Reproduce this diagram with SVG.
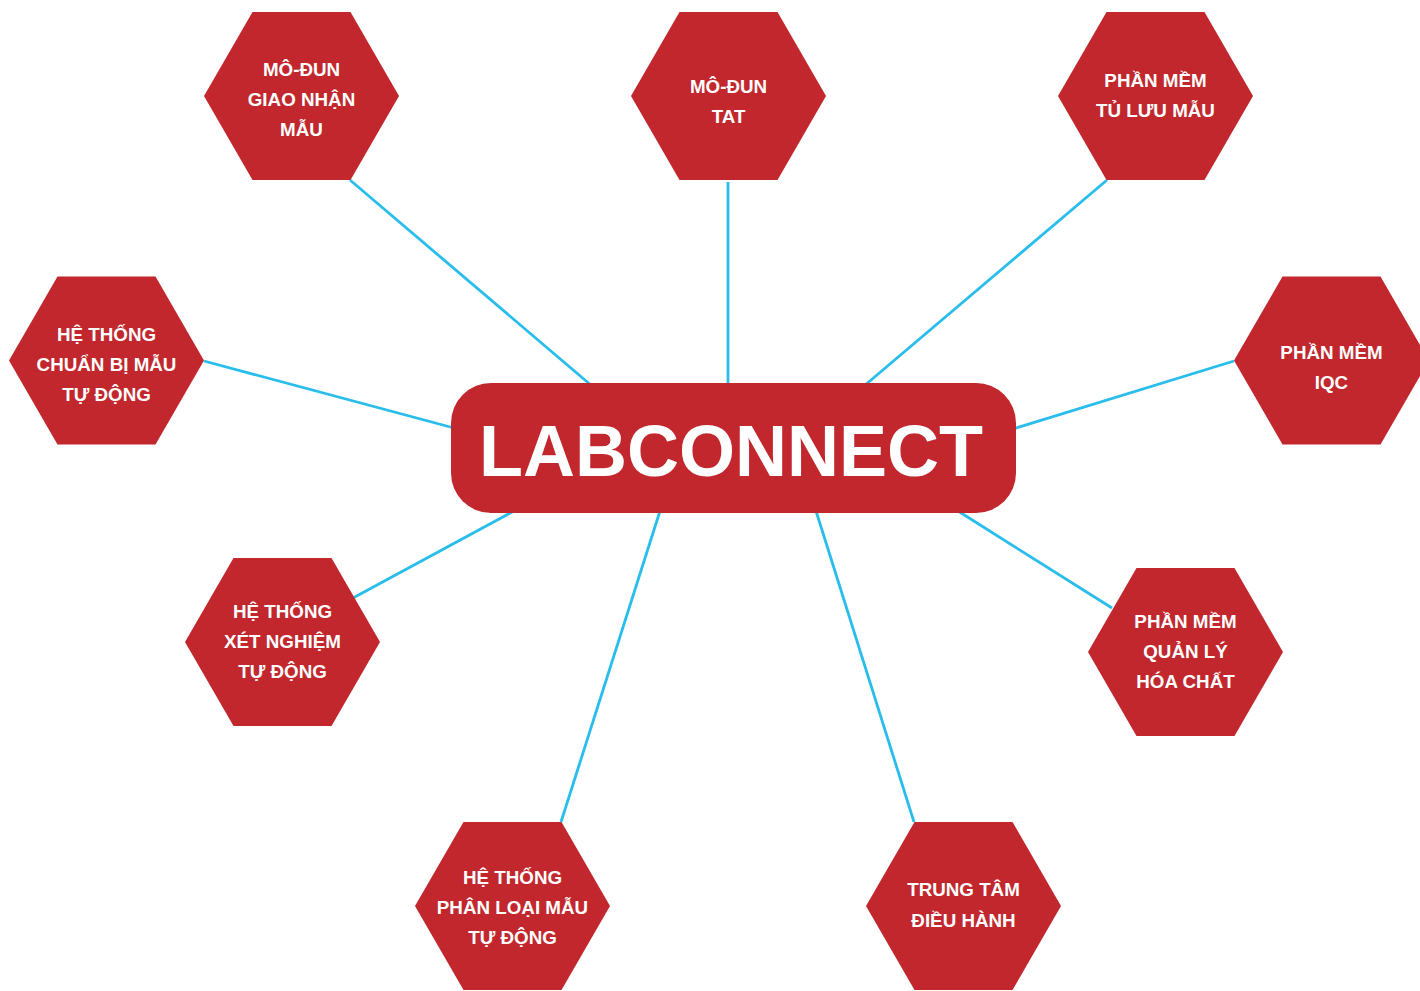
<svg xmlns="http://www.w3.org/2000/svg" width="1420" height="991" viewBox="0 0 1420 991">
<defs>
<style>
.hex{fill:#c1272d}
.lbl{font-family:"Liberation Sans",Arial,sans-serif;font-weight:bold;font-size:18.8px;fill:#ffffff;text-anchor:middle}
.title{font-family:"Liberation Sans",Arial,sans-serif;font-weight:bold;font-size:72px;fill:#ffffff;text-anchor:middle}
.conn line{stroke:#29bdec;stroke-width:2.8;fill:none}
</style>
<polygon id="hexshape" points="-97.5,0 -49,-84 49,-84 97.5,0 49,84 -49,84"/>
</defs>
<rect width="1420" height="991" fill="#ffffff"/>
<g id="connectors" class="conn">
<line x1="350" y1="180" x2="592" y2="386"/>
<line x1="728" y1="182" x2="728" y2="386"/>
<line x1="1107" y1="180" x2="864" y2="386"/>
<line x1="204" y1="361" x2="454" y2="428"/>
<line x1="1234" y1="361" x2="1013" y2="429"/>
<line x1="353" y1="598" x2="514" y2="511"/>
<line x1="1112" y1="608" x2="958" y2="511"/>
<line x1="561" y1="822" x2="660" y2="511"/>
<line x1="914" y1="822" x2="816" y2="511"/>
</g>
<g id="node-giao-nhan">
<use href="#hexshape" class="hex" x="301.5" y="96"/>
<text class="lbl" x="301.5" y="76">MÔ-ĐUN</text>
<text class="lbl" x="301.5" y="106">GIAO NHẬN</text>
<text class="lbl" x="301.5" y="136">MẪU</text>
</g>
<g id="node-tat">
<use href="#hexshape" class="hex" x="728.5" y="96"/>
<text class="lbl" x="728.5" y="92.5">MÔ-ĐUN</text>
<text class="lbl" x="728.5" y="122.5">TAT</text>
</g>
<g id="node-tu-luu">
<use href="#hexshape" class="hex" x="1155.5" y="96"/>
<text class="lbl" x="1155.5" y="86.5">PHẦN MỀM</text>
<text class="lbl" x="1155.5" y="116.5">TỦ LƯU MẪU</text>
</g>
<g id="node-chuan-bi">
<use href="#hexshape" class="hex" x="106.5" y="360.5"/>
<text class="lbl" x="106.5" y="341">HỆ THỐNG</text>
<text class="lbl" x="106.5" y="370.5">CHUẨN BỊ MẪU</text>
<text class="lbl" x="106.5" y="400.5">TỰ ĐỘNG</text>
</g>
<g id="node-iqc">
<use href="#hexshape" class="hex" x="1331.5" y="360.5"/>
<text class="lbl" x="1331.5" y="358.5">PHẦN MỀM</text>
<text class="lbl" x="1331.5" y="388.5">IQC</text>
</g>
<g id="node-xet-nghiem">
<use href="#hexshape" class="hex" x="282.5" y="642"/>
<text class="lbl" x="282.5" y="617.5">HỆ THỐNG</text>
<text class="lbl" x="282.5" y="647.5">XÉT NGHIỆM</text>
<text class="lbl" x="282.5" y="677.5">TỰ ĐỘNG</text>
</g>
<g id="node-hoa-chat">
<use href="#hexshape" class="hex" x="1185.5" y="652"/>
<text class="lbl" x="1185.5" y="627.5">PHẦN MỀM</text>
<text class="lbl" x="1185.5" y="657.5">QUẢN LÝ</text>
<text class="lbl" x="1185.5" y="687.5">HÓA CHẤT</text>
</g>
<g id="node-phan-loai">
<use href="#hexshape" class="hex" x="512.5" y="906"/>
<text class="lbl" x="512.5" y="883.5">HỆ THỐNG</text>
<text class="lbl" x="512.5" y="914">PHÂN LOẠI MẪU</text>
<text class="lbl" x="512.5" y="944">TỰ ĐỘNG</text>
</g>
<g id="node-trung-tam">
<use href="#hexshape" class="hex" x="963.5" y="906"/>
<text class="lbl" x="963.5" y="896">TRUNG TÂM</text>
<text class="lbl" x="963.5" y="926.5">ĐIỀU HÀNH</text>
</g>
<g id="node-labconnect">
<rect x="451" y="383" width="565" height="130" rx="40" ry="40" class="hex"/>
<text class="title" x="731" y="476">LABCONNECT</text>
</g>
</svg>
